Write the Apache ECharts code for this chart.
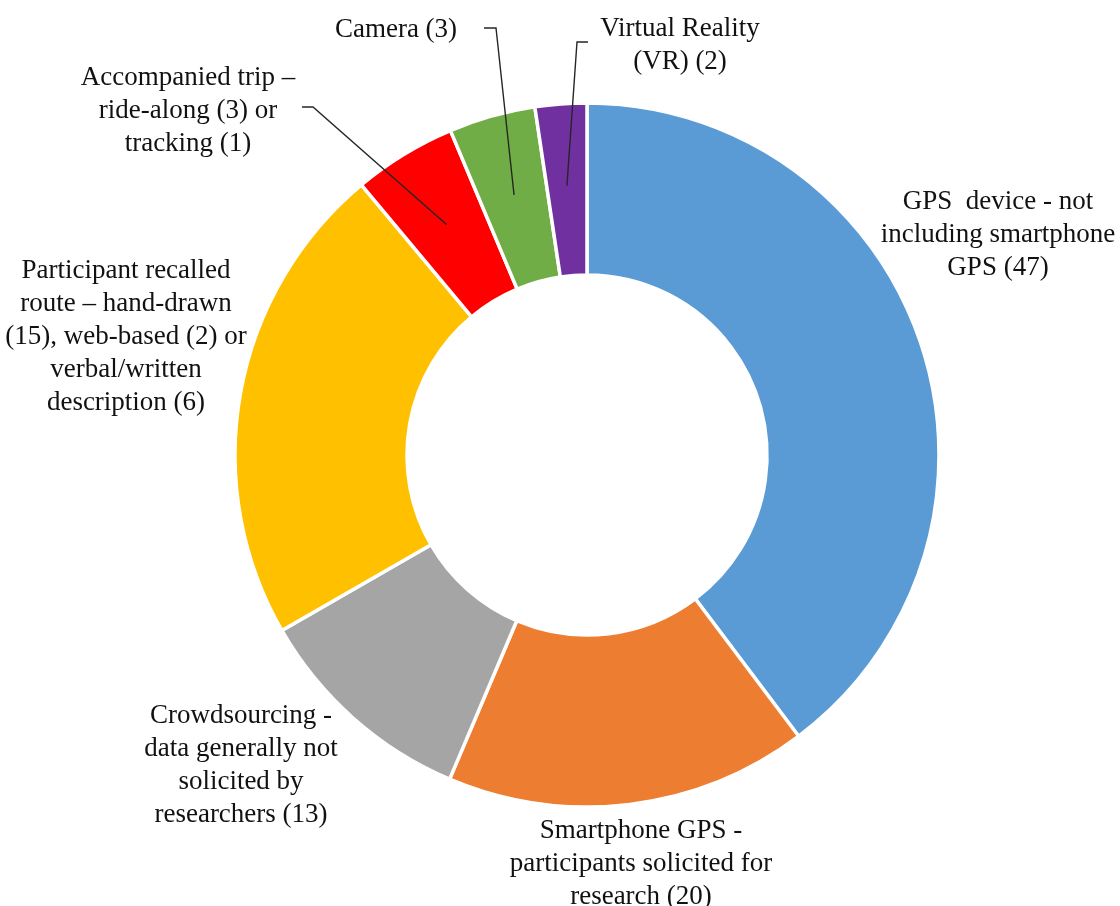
<!DOCTYPE html>
<html><head><meta charset="utf-8">
<script src="https://cdn.jsdelivr.net/npm/echarts@6/dist/echarts.min.js"></script>
<style>html,body{margin:0;background:#fff}#c{width:1120px;height:906px}</style>
</head><body><div id="c"></div>
<script>
// Data (wedge sizes)
const categories = [
  'GPS  device - not\nincluding smartphone\nGPS (47)',
  'Smartphone GPS -\nparticipants solicited for\nresearch (20)',
  'Crowdsourcing -\ndata generally not\nsolicited by\nresearchers (13)',
  'Participant recalled\nroute – hand-drawn\n(15), web-based (2) or\nverbal/written\ndescription (6)',
  'Accompanied trip –\nride-along (3) or\ntracking (1)',
  'Camera (3)',
  'Virtual Reality\n(VR) (2)'
];
const values = [47, 19.7, 12.2, 26.3, 5.6, 4.7, 2.8];
const colors = ['#5B9BD5', '#ED7D31', '#A5A5A5', '#FFC000', '#FF0000', '#70AD47', '#7030A0'];

// Layout / style
const CX = 587, CY = 455, R_IN = 180, R_OUT = 352;
const labelPos = [[998, 235], [641, 864], [241, 765], [126, 337], [188, 111], [396, 30], [680, 45]];
const elbows = [null, null, null, null, [[302, 107], [313, 107]], [[484, 28], [496, 28]], [[588, 42], [577, 42]]];

const total = values.reduce((a, b) => a + b, 0);
function midAnchor(i) {
  let before = 0;
  for (let k = 0; k < i; k++) before += values[k];
  const a = (before + values[i] / 2) / total * 2 * Math.PI;
  const r = (R_IN + R_OUT) / 2 + 4;
  return [CX + r * Math.sin(a), CY - r * Math.cos(a)];
}

const leaderLines = [];
elbows.forEach((e, i) => {
  if (!e) return;
  leaderLines.push({
    type: 'polyline',
    z: 100,
    shape: { points: [e[0], e[1], midAnchor(i)] },
    style: { stroke: '#262626', lineWidth: 1.4, fill: null }
  });
});

const chart = echarts.init(document.getElementById('c'), null, { renderer: 'canvas' });
chart.setOption({
  backgroundColor: '#fff',
  animation: false,
  graphic: leaderLines,
  series: [{
    type: 'pie',
    center: [CX, CY],
    radius: [R_IN, R_OUT],
    startAngle: 90,
    clockwise: true,
    avoidLabelOverlap: false,
    itemStyle: { borderColor: '#fff', borderWidth: 3.5 },
    label: {
      show: true,
      position: 'outside',
      formatter: '{b}',
      color: '#111',
      fontFamily: 'Liberation Serif',
      fontSize: 27,
      lineHeight: 33,
      align: 'center'
    },
    labelLine: { show: false },
    labelLayout: function (p) {
      const i = p.dataIndex;
      return { x: labelPos[i][0], y: labelPos[i][1], align: 'center', verticalAlign: 'middle' };
    },
    data: categories.map((c, i) => ({
      name: c,
      value: values[i],
      itemStyle: { color: colors[i] }
    }))
  }]
});
</script>
</body></html>
